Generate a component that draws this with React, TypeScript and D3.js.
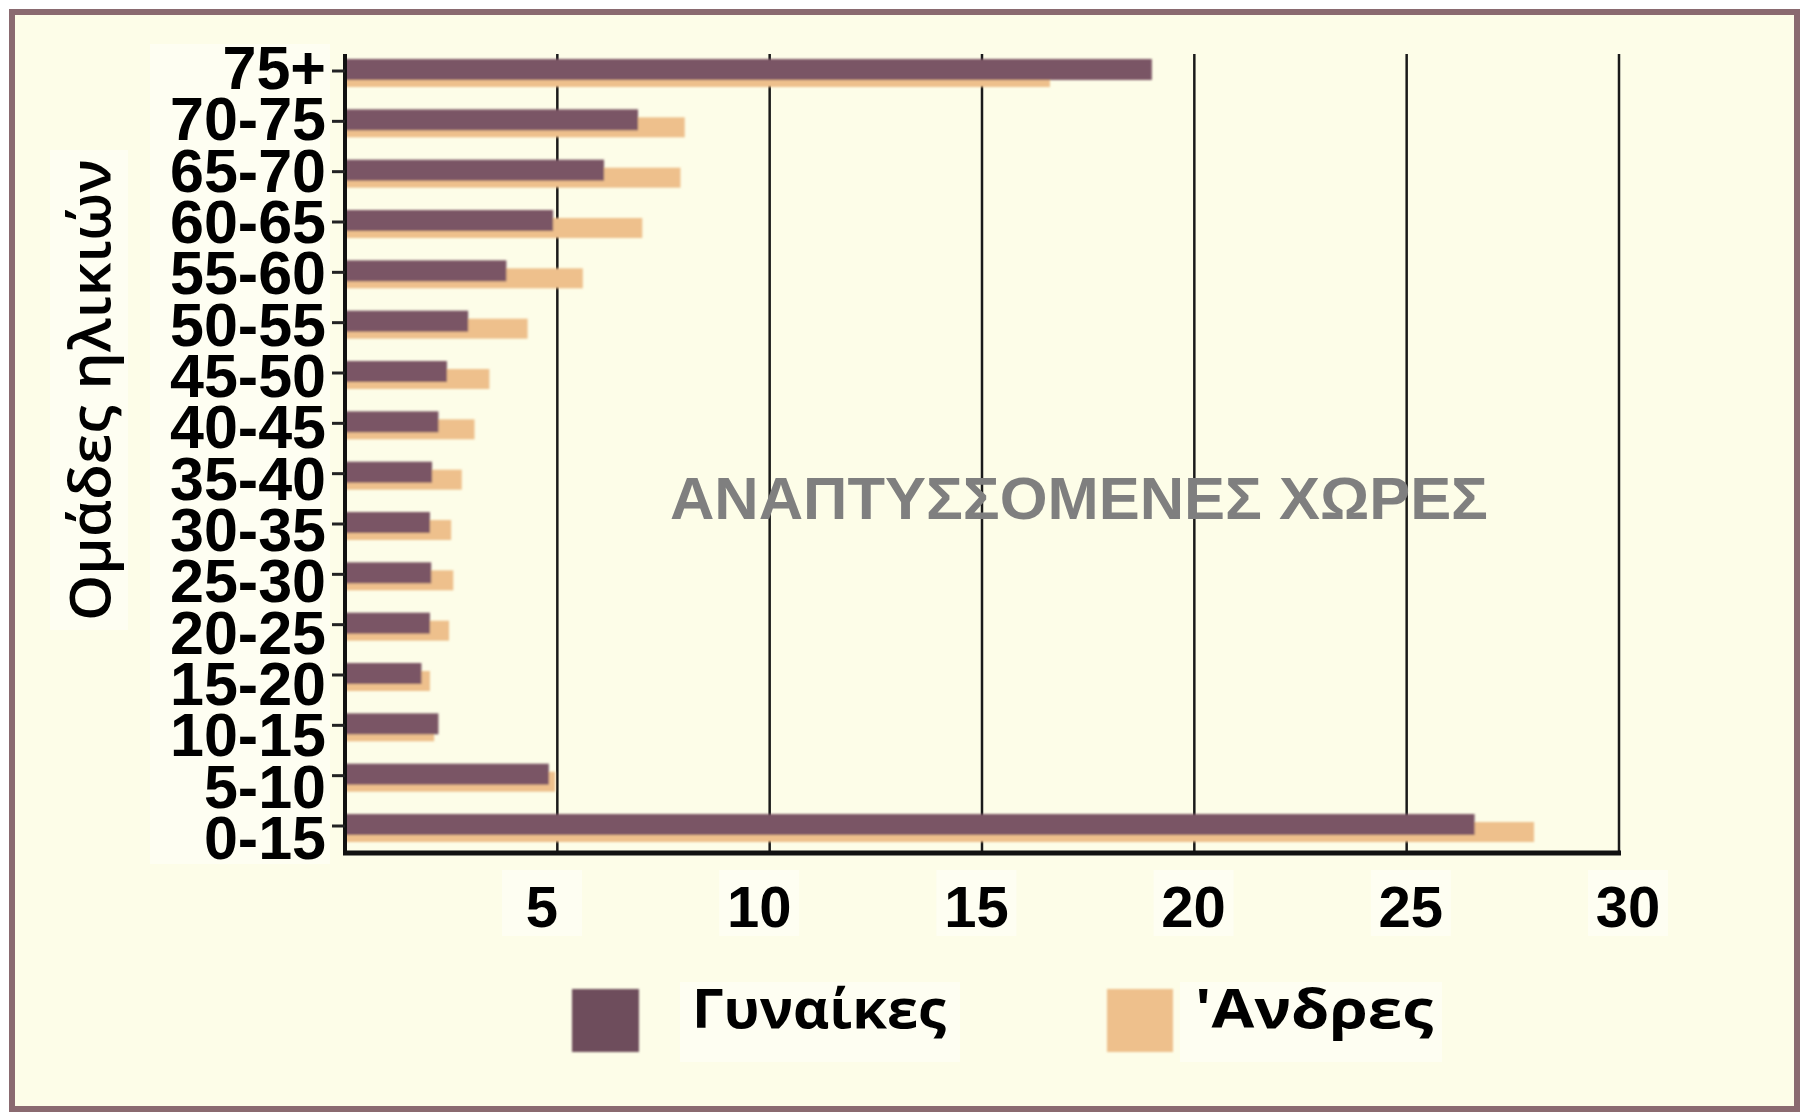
import React from 'react';
import * as d3 from 'd3';

const categories = ['75+', '70-75', '65-70', '60-65', '55-60', '50-55', '45-50', '40-45', '35-40', '30-35', '25-30', '20-25', '15-20', '10-15', '5-10', '0-15'];
const women = [19.0, 6.9, 6.1, 4.9, 3.8, 2.9, 2.4, 2.2, 2.05, 2.0, 2.03, 2.0, 1.8, 2.2, 4.8, 26.6];
const men = [16.6, 8.0, 7.9, 7.0, 5.6, 4.3, 3.4, 3.05, 2.75, 2.5, 2.55, 2.45, 2.0, 2.1, 4.95, 28.0];
const xTicks = [5, 10, 15, 20, 25, 30];
const seriesNames = ['Γυναίκες', "'Ανδρες"];
const yTitle = 'Ομάδες ηλικιών';
const watermark = 'ΑΝΑΠΤΥΣΣΟΜΕΝΕΣ ΧΩΡΕΣ';

const W = 1802;
const H = 1113;
const WOMEN_COLOR = '#7a5465';
const MEN_COLOR = '#eec08c';
const BG = '#fdfde8';

export default function App() {
  const x = d3.scaleLinear().domain([0, 30]).range([345, 1619]);
  const xLab = d3.scaleLinear().domain([5, 30]).range([542, 1628]);
  const y = d3.scalePoint<string>().domain(categories).range([71, 826]);
  const yLab = d3.scalePoint<string>().domain(categories).range([68, 838]);
  const top = 54;
  const bottom = 853;
  const boldArial = "'Liberation Sans', Arial, sans-serif";
  const legendFont = "'Open Sans', 'Noto Sans', sans-serif";

  return (
    <svg width={W} height={H} style={{ position: 'absolute', left: 0, top: 0 }}>
      <defs>
        <filter id="soft" x="-5%" y="-50%" width="110%" height="200%">
          <feGaussianBlur stdDeviation="1.3" />
        </filter>
      </defs>
      <rect x={0} y={0} width={W} height={H} fill="#ffffff" />
      <rect x={12} y={12} width={1785} height={1097} fill={BG} stroke="#8a6a70" strokeWidth={6} />

      {/* faint white patches behind texts */}
      <rect x={50} y={150} width={78} height={480} fill="#ffffff" opacity={0.45} />
      <rect x={150} y={44} width={180} height={820} fill="#ffffff" opacity={0.45} />
      {xTicks.map((t) => (
        <rect key={'wb' + t} x={xLab(t) - 40} y={870} width={80} height={66} fill="#ffffff" opacity={0.45} />
      ))}
      <rect x={680} y={982} width={280} height={80} fill="#ffffff" opacity={0.45} />
      <rect x={1180} y={982} width={262} height={80} fill="#ffffff" opacity={0.45} />

      {/* gridlines */}
      {xTicks.map((t) => (
        <line key={'g' + t} x1={x(t)} x2={x(t)} y1={top} y2={bottom} stroke="#1a1a1a" strokeWidth={2.5} />
      ))}

      {/* bars */}
      <g filter="url(#soft)">
        {categories.map((c, i) => (
          <rect key={'m' + c} x={x(0)} y={(y(c) as number) - 4} width={x(men[i]) - x(0)} height={20} fill={MEN_COLOR} />
        ))}
        {categories.map((c, i) => (
          <rect key={'w' + c} x={x(0)} y={(y(c) as number) - 12} width={x(women[i]) - x(0)} height={21} fill={WOMEN_COLOR} />
        ))}
      </g>

      {/* axes */}
      <line x1={x(0)} x2={x(0)} y1={top} y2={bottom + 2} stroke="#111" strokeWidth={4} />
      <line x1={x(0) - 2} x2={x(30) + 2} y1={bottom} y2={bottom} stroke="#111" strokeWidth={5} />
      {categories.map((c) => (
        <line key={'t' + c} x1={332} x2={x(0)} y1={y(c)} y2={y(c)} stroke="#222" strokeWidth={3} />
      ))}

      {/* y tick labels */}
      {categories.map((c) => (
        <text key={'yl' + c} x={326} y={yLab(c)} textAnchor="end" dominantBaseline="central"
          fontFamily={boldArial} fontWeight="bold" fontSize={61} fill="#000">{c}</text>
      ))}

      {/* x tick labels */}
      {xTicks.map((t) => (
        <text key={'xl' + t} x={xLab(t)} y={906} textAnchor="middle" dominantBaseline="central"
          fontFamily={boldArial} fontWeight="bold" fontSize={58} fill="#000">{t}</text>
      ))}

      {/* y title */}
      <text transform="translate(110,390) rotate(-90)" textAnchor="middle" fontFamily={legendFont}
        fontWeight={600} fontSize={56} fill="#000" textLength={462} lengthAdjust="spacingAndGlyphs">{yTitle}</text>

      {/* watermark */}
      <text x={1079} y={498} textAnchor="middle" dominantBaseline="central" fontFamily={boldArial}
        fontWeight="bold" fontSize={60} fill="#7f7f7f" textLength={818} lengthAdjust="spacingAndGlyphs">{watermark}</text>

      {/* legend */}
      <g filter="url(#soft)">
        <rect x={572} y={989} width={67} height={63} fill="#6e4d5c" />
        <rect x={1107} y={989} width={66} height={63} fill={MEN_COLOR} />
      </g>
      <text x={692} y={1028} fontFamily={legendFont} fontWeight="bold" fontSize={54} fill="#000"
        textLength={254} lengthAdjust="spacingAndGlyphs">{seriesNames[0]}</text>
      <text x={1195} y={1028} fontFamily={legendFont} fontWeight="bold" fontSize={54} fill="#000"
        textLength={238} lengthAdjust="spacingAndGlyphs">{seriesNames[1]}</text>
    </svg>
  );
}
